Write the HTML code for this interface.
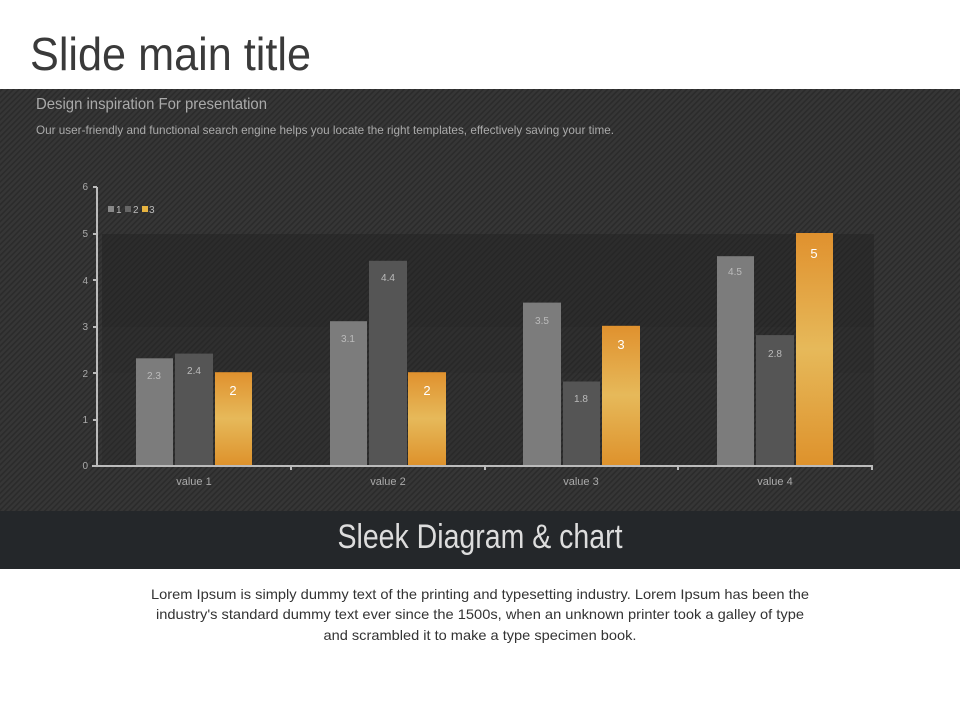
<!DOCTYPE html>
<html><head><meta charset="utf-8"><style>
body{margin:0;width:960px;height:720px;background:#fff;overflow:hidden;font-family:"Liberation Sans",sans-serif}
</style></head><body>
<svg width="960" height="720" xmlns="http://www.w3.org/2000/svg" style="position:absolute;left:0;top:0">
<defs>
<pattern id="st" width="4" height="4" patternUnits="userSpaceOnUse" patternTransform="rotate(45)">
<rect width="4" height="4" fill="#363636"/><rect width="1.6" height="4" fill="#2b2b2b"/>
</pattern>
<linearGradient id="og" x1="0" y1="0" x2="0" y2="1">
<stop offset="0" stop-color="#e0912e"/><stop offset="0.5" stop-color="#e6b95a"/><stop offset="1" stop-color="#de922c"/>
</linearGradient>
</defs>
<text x="30" y="70" font-size="46" fill="#3a3a3a" textLength="281" lengthAdjust="spacingAndGlyphs">Slide main title</text>
<rect x="0" y="89" width="960" height="422" fill="url(#st)"/>
<text x="36" y="109" font-size="16" fill="#aaa" textLength="231" lengthAdjust="spacingAndGlyphs">Design inspiration For presentation</text>
<text x="36" y="134" font-size="12" fill="#aaa" textLength="578" lengthAdjust="spacingAndGlyphs">Our user-friendly and functional search engine helps you locate the right templates, effectively saving your time.</text>
<rect x="102" y="234" width="772" height="93" fill="#222" opacity="0.45"/>
<rect x="102" y="327" width="772" height="46" fill="#222" opacity="0.35"/>
<rect x="102" y="373" width="772" height="92" fill="#222" opacity="0.25"/>
<g font-size="10" fill="#aaa" text-anchor="end">
<text x="88" y="190">6</text><text x="88" y="237">5</text><text x="88" y="284">4</text><text x="88" y="330">3</text><text x="88" y="377">2</text><text x="88" y="423">1</text><text x="88" y="469">0</text>
</g>
<g stroke="#bbb" stroke-width="2">
<line x1="97" y1="187" x2="97" y2="466"/><line x1="92" y1="466" x2="873" y2="466"/>
<line x1="93" y1="187" x2="97" y2="187"/><line x1="93" y1="234" x2="97" y2="234"/><line x1="93" y1="280" x2="97" y2="280"/><line x1="93" y1="327" x2="97" y2="327"/><line x1="93" y1="373" x2="97" y2="373"/><line x1="93" y1="420" x2="97" y2="420"/>
<line x1="291" y1="466" x2="291" y2="470"/><line x1="485" y1="466" x2="485" y2="470"/><line x1="678" y1="466" x2="678" y2="470"/><line x1="872" y1="466" x2="872" y2="470"/>
</g>
<rect x="108" y="206" width="6" height="6" fill="#888"/><text x="116" y="213" font-size="10" fill="#bbb">1</text>
<rect x="125" y="206" width="6" height="6" fill="#666"/><text x="133" y="213" font-size="10" fill="#bbb">2</text>
<rect x="142" y="206" width="6" height="6" fill="#e6b340"/><text x="149" y="213" font-size="10" fill="#bbb">3</text>
<g>
<rect x="136" y="358.3" width="37" height="106.7" fill="#7c7c7c"/><rect x="175" y="353.6" width="38" height="111.4" fill="#555"/><rect x="215" y="372.2" width="37" height="92.8" fill="url(#og)"/>
<rect x="330" y="321.2" width="37" height="143.8" fill="#7c7c7c"/><rect x="369" y="260.8" width="38" height="204.2" fill="#555"/><rect x="408" y="372.2" width="38" height="92.8" fill="url(#og)"/>
<rect x="523" y="302.6" width="38" height="162.4" fill="#7c7c7c"/><rect x="563" y="381.5" width="37" height="83.5" fill="#555"/><rect x="602" y="325.8" width="38" height="139.2" fill="url(#og)"/>
<rect x="717" y="256.2" width="37" height="208.8" fill="#7c7c7c"/><rect x="756" y="335.1" width="38" height="129.9" fill="#555"/><rect x="796" y="233" width="37" height="232" fill="url(#og)"/>
</g>
<g font-size="10" fill="#bbb" text-anchor="middle">
<text x="154" y="379">2.3</text><text x="194" y="374">2.4</text>
<text x="348" y="342">3.1</text><text x="388" y="281">4.4</text>
<text x="542" y="324">3.5</text><text x="581" y="402">1.8</text>
<text x="735" y="275">4.5</text><text x="775" y="357">2.8</text>
</g>
<g font-size="13" fill="#fff" text-anchor="middle">
<text x="233" y="395">2</text><text x="427" y="395">2</text><text x="621" y="349">3</text><text x="814" y="258">5</text>
</g>
<g font-size="11" fill="#aaa" text-anchor="middle">
<text x="194" y="485">value 1</text><text x="388" y="485">value 2</text><text x="581" y="485">value 3</text><text x="775" y="485">value 4</text>
</g>
<rect x="0" y="511" width="960" height="58" fill="#24272a"/>
<text x="480" y="548" font-size="34" fill="#ddd" text-anchor="middle" textLength="285" lengthAdjust="spacingAndGlyphs">Sleek Diagram &amp; chart</text>
<g font-size="14" fill="#333" text-anchor="middle" lengthAdjust="spacingAndGlyphs">
<text x="480" y="599" textLength="658" lengthAdjust="spacingAndGlyphs">Lorem Ipsum is simply dummy text of the printing and typesetting industry. Lorem Ipsum has been the</text>
<text x="480" y="619" textLength="648" lengthAdjust="spacingAndGlyphs">industry's standard dummy text ever since the 1500s, when an unknown printer took a galley of type</text>
<text x="480" y="640" textLength="313" lengthAdjust="spacingAndGlyphs">and scrambled it to make a type specimen book.</text>
</g>
</svg>
</body></html>
